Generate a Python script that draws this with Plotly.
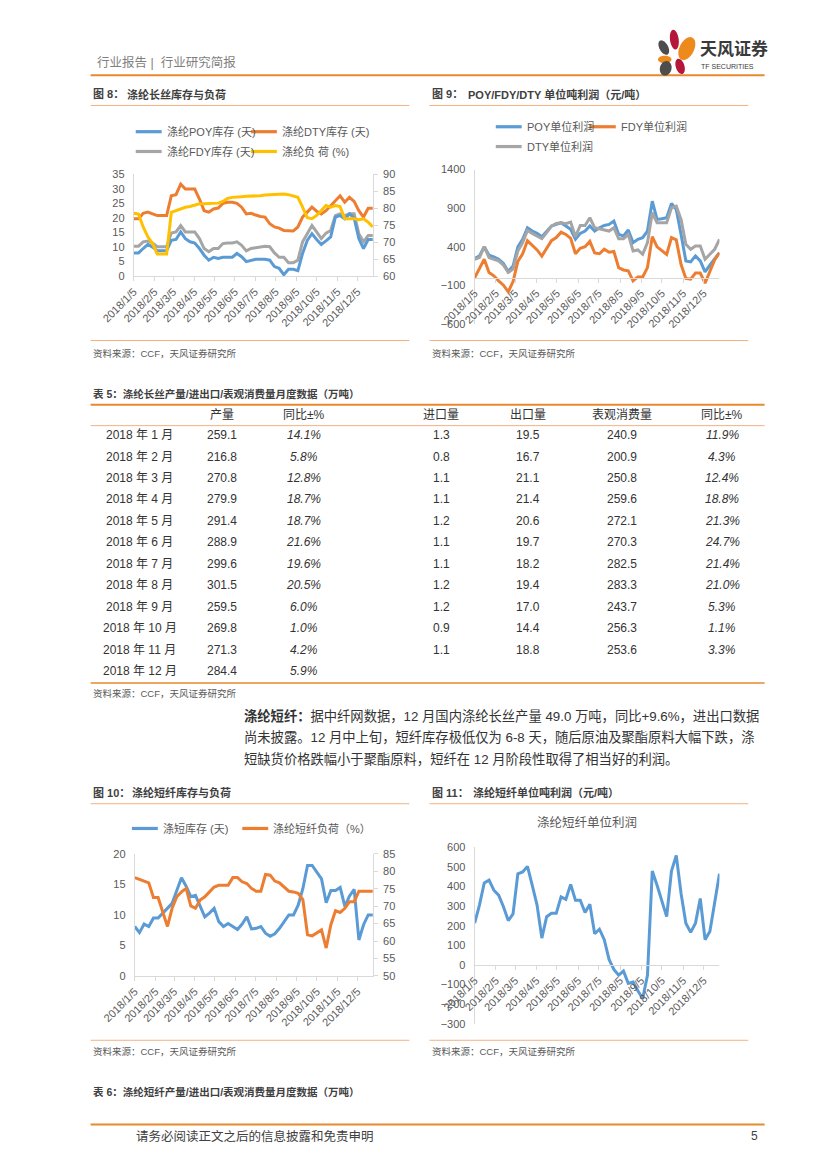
import math
import plotly.graph_objects as go
import pandas as pd

W, H = 827, 1169
FONT = "Liberation Sans, Noto Sans CJK SC, sans-serif"
GRAY_TXT = "#595959"
DARK_TXT = "#333333"
AXIS = "#D9D9D9"
BLUE, ORANGE, GREY, YELLOW = "#5B9BD5", "#ED7D31", "#A5A5A5", "#FFC000"
PAGE_ORANGE = "#E8892E"
LIGHT_ORANGE = "#F4B183"


def X(p):
    return p / W


def Y(p):
    return 1 - p / H


# ---------------- data ----------------
week_dates = pd.date_range("2018-01-05", periods=52, freq="7D")
x_range = ["2018-01-05", "2018-12-28"]
tick_dates = ["2018-%02d-05" % m for m in range(1, 13)]
tick_labels = ["2018/1/5", "2018/2/5", "2018/3/5", "2018/4/5", "2018/5/5", "2018/6/5",
               "2018/7/5", "2018/8/5", "2018/9/5", "2018/10/5", "2018/11/5", "2018/12/5"]

poy_stock = [8, 8, 9.5, 10.9, 10, 8.7, 8.7, 8.7, 12.3, 12.6,
             15.2, 12.9, 11.8, 11.4, 9.5, 7.2, 5.5, 6.5, 6.1, 6.5,
             6.5, 6.5, 7.8, 6.7, 5, 5.3, 5.8, 5.8, 5.8, 5.5,
             3.3, 2.7, 0.5, 2.4, 2.4, 1.9, 7.8, 12.3, 14.6, 12.6,
             10.9, 12.1, 13.5, 20.3, 20.8, 19.7, 21.4, 20, 12.9, 9.5,
             12.6, 12.6]
dty_stock = [19.7, 19.7, 21.6, 22, 21.4, 20.8, 20.8, 20.8, 27.6, 28,
             31.6, 29.9, 29.9, 29.9, 26.5, 22.5, 22, 23.1, 23.4, 25,
             25.4, 25.4, 25, 23.7, 21.4, 21.6, 21, 20.5, 20.3, 18,
             16.9, 16.5, 15.7, 15.5, 15.5, 16.9, 20.3, 22, 23.7, 22.3,
             21.4, 22.5, 24.2, 26.2, 27.6, 25.4, 27.1, 25.7, 22.5, 20.3,
             23.3, 23.3]
fdy_stock = [10.3, 10.3, 11.8, 12.1, 11.4, 10.1, 10.1, 10.1, 14.8, 15.2,
             17.4, 15.2, 15.2, 15.2, 12.9, 9.5, 8.4, 9.5, 9.5, 11.2,
             11.4, 11.4, 11.8, 10.6, 8.7, 9.5, 9.8, 10.1, 10.3, 10.1,
             8, 6.5, 6.5, 4.6, 4.6, 5.5, 11.8, 14.6, 17.4, 15.2,
             12.9, 14.8, 15.7, 20.8, 21.4, 20.8, 21.4, 21.4, 14.6, 11.8,
             14, 14]
filament_load = [78.5, 78.3, 74.5, 71.6, 69.6, 66.5, 66.5, 66.5, 78.8, 79.3,
                 79.8, 80.3, 80.5, 80.8, 81.3, 81.3, 81.3, 81.3, 81.5, 82,
                 82.9, 83.2, 83.2, 83.4, 83.5, 83.5, 83.6, 83.7, 83.9, 84,
                 84.2, 84.2, 84.2, 84, 83.5, 83.2, 80.3, 77.2, 76.9, 77.9,
                 79.3, 80.8, 80.3, 80.8, 80.5, 76.9, 76.9, 76.9, 76.6, 76.9,
                 75.9, 74.5]

poy_profit = [247, 282, 402, 290, 269, 239, 183, 80, 150, 400,
              497, 647, 604, 574, 531, 604, 669, 690, 712, 669,
              626, 497, 574, 604, 669, 604, 647, 677, 690, 733,
              561, 540, 617, 454, 497, 518, 604, 991, 755, 763,
              776, 961, 884, 561, 217, 204, 282, 217, 75, 161,
              239, 325]
fdy_profit = [0, 129, 239, 67, 24, -41, -97, -183, -50, 210,
              310, 480, 420, 360, 280, 380, 480, 520, 590, 560,
              510, 310, 380, 400, 470, 320, 310, 370, 330, 340,
              130, 100, 90, -40, 10, 10, 130, 530, 400, 350,
              300, 520, 490, 170, -10, -20, 60, 60, -70, 80,
              230, 320]
dty_profit = [239, 260, 402, 260, 239, 217, 161, 67, 110, 346,
              454, 613, 574, 540, 505, 583, 669, 703, 712, 699,
              720, 531, 677, 677, 776, 647, 634, 617, 604, 647,
              505, 505, 561, 346, 359, 303, 454, 841, 712, 712,
              712, 905, 927, 755, 432, 368, 411, 411, 239, 303,
              368, 497]

psf_stock = [8.1, 7.1, 8.5, 8.1, 9.5, 9.5, 10.3, 11.1, 11.9, 14,
             16.1, 14.7, 13, 13.2, 11.4, 9.7, 10.3, 11.1, 8.9, 8.1,
             8.6, 8.1, 7.6, 8.5, 9.7, 7.7, 7.8, 8.1, 7, 6.5,
             6.9, 7.8, 8.9, 10, 10, 11.6, 14.3, 18.1, 18.1, 17,
             15.9, 12, 14, 14, 14.5, 11.4, 13.1, 14.2, 5.9, 8.4,
             10, 10]
psf_load = [78.2, 77.6, 77.2, 76.7, 72.5, 72.5, 68.4, 64.2, 69.4, 72.7,
            74.1, 75.1, 70.1, 69.4, 71.8, 72.7, 74.1, 75.5, 76, 76,
            76, 78.2, 78.2, 77, 76.5, 75.1, 74.3, 74.3, 79.1, 78.9,
            77.2, 76.7, 75.5, 74.3, 74.1, 73.7, 71.9, 61.8, 61.5, 62.3,
            63.2, 58, 64.7, 68.7, 68.2, 69.4, 71.3, 71.3, 74.3, 74.3,
            74.3, 74.3]

psf_profit = [213, 305, 418, 432, 381, 356, 297, 226, 260, 465,
              474, 502, 406, 305, 137, 246, 263, 263, 347, 334,
              411, 330, 330, 267, 309, 159, 182, 129, 28, -23,
              -52, -31, -94, -87, -132, -171, -53, 479, 406, 327,
              246, 479, 558, 364, 213, 166, 213, 339, 129, 171,
              314, 465]

table_headers = ["", "产量", "同比±%", "进口量", "出口量", "表观消费量", "同比±%"]
table_months = ["2018 年 1 月", "2018 年 2 月", "2018 年 3 月", "2018 年 4 月", "2018 年 5 月",
                "2018 年 6 月", "2018 年 7 月", "2018 年 8 月", "2018 年 9 月", "2018 年 10 月",
                "2018 年 11 月", "2018 年 12 月"]
output_vol = [259.1, 216.8, 270.8, 279.9, 291.4, 288.9, 299.6, 301.5, 259.5, 269.8, 271.3, 284.4]
output_yoy = [14.1, 5.8, 12.8, 18.7, 18.7, 21.6, 19.6, 20.5, 6.0, 1.0, 4.2, 5.9]
import_vol = [1.3, 0.8, 1.1, 1.1, 1.2, 1.1, 1.1, 1.2, 1.2, 0.9, 1.1, None]
export_vol = [19.5, 16.7, 21.1, 21.4, 20.6, 19.7, 18.2, 19.4, 17.0, 14.4, 18.8, None]
consumption = [240.9, 200.9, 250.8, 259.6, 272.1, 270.3, 282.5, 283.3, 243.7, 256.3, 253.6, None]
consumption_yoy = [11.9, 4.3, 12.4, 18.8, 21.3, 24.7, 21.4, 21.0, 5.3, 1.1, 3.3, None]

fig = go.Figure()
LW = 3


def line_trace(x, y, color, xa, ya):
    return go.Scatter(x=x, y=y, mode="lines", line=dict(color=color, width=LW),
                      xaxis=xa, yaxis=ya, showlegend=False, hoverinfo="skip")


fig.add_trace(line_trace(week_dates, fdy_stock, GREY, "x", "y"))
fig.add_trace(line_trace(week_dates, poy_stock, BLUE, "x", "y"))
fig.add_trace(line_trace(week_dates, dty_stock, ORANGE, "x", "y"))
fig.add_trace(line_trace(week_dates, filament_load, YELLOW, "x", "y2"))
fig.add_trace(line_trace(week_dates, poy_profit, BLUE, "x2", "y3"))
fig.add_trace(line_trace(week_dates, dty_profit, GREY, "x2", "y3"))
fig.add_trace(line_trace(week_dates, fdy_profit, ORANGE, "x2", "y3"))
fig.add_trace(line_trace(week_dates, psf_stock, BLUE, "x3", "y4"))
fig.add_trace(line_trace(week_dates, psf_load, ORANGE, "x3", "y5"))
fig.add_trace(line_trace(week_dates, psf_profit, BLUE, "x4", "y6"))

tf = dict(family=FONT, size=11, color=GRAY_TXT)


def xaxis_cfg(x0, x1, **kw):
    d = dict(domain=[X(x0), X(x1)], range=x_range, type="date",
             tickvals=tick_dates, ticktext=tick_labels, tickangle=-45,
             showline=True, linecolor=AXIS, linewidth=1, ticks="outside", ticklen=4,
             tickcolor=AXIS, tickfont=tf, showgrid=False, zeroline=False, fixedrange=True)
    d.update(kw)
    return d


def yaxis_cfg(top, bottom, rng, dtick, **kw):
    d = dict(domain=[Y(bottom), Y(top)], range=rng, dtick=dtick, tick0=rng[0], showline=True,
             linecolor=AXIS, linewidth=1, showgrid=False, zeroline=False, tickfont=tf,
             ticks="", ticklabelstandoff=6, fixedrange=True)
    d.update(kw)
    return d


c9_top, c9_bot, c9_rng = 165.3, 321.3, [-600, 1400]
c11_top, c11_bot, c11_rng = 850.0, 1028.3, [-300, 600]
pos9 = Y(c9_bot) + (0 - c9_rng[0]) / (c9_rng[1] - c9_rng[0]) * (Y(c9_top) - Y(c9_bot))
pos11 = Y(c11_bot) + (0 - c11_rng[0]) / (c11_rng[1] - c11_rng[0]) * (Y(c11_top) - Y(c11_bot))

fig.update_layout(
    width=W, height=H, margin=dict(l=0, r=0, t=0, b=0),
    paper_bgcolor="white", plot_bgcolor="rgba(0,0,0,0)",
    font=dict(family=FONT, color=GRAY_TXT),
    xaxis=xaxis_cfg(105, 354, anchor="y"),
    yaxis=yaxis_cfg(170, 273, [0, 35], 5, anchor="x"),
    yaxis2=dict(overlaying="y", side="right", anchor="x", range=[60, 90], dtick=5,
                showline=True, linecolor=AXIS, ticks="outside", ticklen=4, tickcolor=AXIS,
                tickfont=tf, showgrid=False, zeroline=False, ticklabelstandoff=3, fixedrange=True),
    xaxis2=xaxis_cfg(460, 715, anchor="free", position=pos9),
    yaxis3=yaxis_cfg(c9_top, c9_bot, c9_rng, 500, anchor="x2"),
    xaxis3=xaxis_cfg(106, 354, anchor="y4"),
    yaxis4=yaxis_cfg(856.7, 980, [0, 20], 5, anchor="x3"),
    yaxis5=dict(overlaying="y4", side="right", anchor="x3", range=[50, 85], dtick=5,
                showline=True, linecolor=AXIS, ticks="outside", ticklen=4, tickcolor=AXIS,
                tickfont=tf, showgrid=False, zeroline=False, ticklabelstandoff=3, fixedrange=True),
    xaxis4=xaxis_cfg(460, 715, anchor="free", position=pos11),
    yaxis6=yaxis_cfg(c11_top, c11_bot, c11_rng, 100, anchor="x4"),
)

annotations = []
shapes = []


def txt(x, y, text, size=11, color=DARK_TXT, anchor="left", family=FONT):
    annotations.append(dict(x=X(x), y=Y(y), xref="paper", yref="paper", text=text,
                            showarrow=False, xanchor=anchor, yanchor="middle",
                            font=dict(family=family, size=size, color=color)))


def hline(x0, x1, y, color, width=1):
    shapes.append(dict(type="line", xref="paper", yref="paper", x0=X(x0), x1=X(x1),
                       y0=Y(y), y1=Y(y), line=dict(color=color, width=width)))


def legend_item(x, y, color, label):
    hline(x, x + 27, y, color, 3.2)
    txt(x + 30, y, label, size=11, color=GRAY_TXT)


def ellipse_path(cx, cy, rx, ry, ang):
    a = math.radians(ang)
    pts = []
    for k in range(48):
        t = 2 * math.pi * k / 48
        ex, ey = rx * math.cos(t), ry * math.sin(t)
        xr = cx + ex * math.cos(a) - ey * math.sin(a)
        yr = cy + ex * math.sin(a) + ey * math.cos(a)
        pts.append("%.5f,%.5f" % (X(xr), Y(yr)))
    return "M " + " L ".join(pts) + " Z"


# ---- page header ----
txt(65, 57, "行业报告 |  行业研究简报", size=12.5, color="#7F7F7F")
hline(60, 762, 70, PAGE_ORANGE, 2)
petals = [
    (668, 34, 4.5, 10, -8, "#B5173A"),
    (681, 43, 7.5, 12.5, 28, "#EE8A1C"),
    (657, 42, 4.5, 8, -30, "#4D4D4D"),
    (658, 54, 7, 3.8, 0, "#EE8A1C"),
    (659, 63, 6, 7.5, 18, "#4D4D4D"),
    (674, 61, 4.5, 8, -18, "#B5173A"),
]
for cx, cy, rx, ry, ang, col in petals:
    shapes.append(dict(type="path", xref="paper", yref="paper", path=ellipse_path(cx, cy, rx, ry, ang),
                       fillcolor=col, line=dict(width=0)))
txt(693, 43, "<b>天风证券</b>", size=17, color="#3A3A3A")
txt(694, 61, "TF SECURITIES", size=7, color="#3A3A3A")

# ---- figure 8 / 9 headers ----
txt(60, 89, "<b>图 8：</b>", size=11, color="#404040")
txt(96, 89, "<b>涤纶长丝库存与负荷</b>", size=11, color="#404040")
hline(60, 392, 100.5, LIGHT_ORANGE, 1)
txt(413, 89, "<b>图 9：</b>", size=11, color="#404040")
txt(451, 89, "<b>POY/FDY/DTY 单位吨利润（元/吨）</b>", size=11, color="#404040")
hline(413, 745, 100.5, LIGHT_ORANGE, 1)

legend_item(107, 127, BLUE, "涤纶POY库存 (天)")
legend_item(227, 127, ORANGE, "涤纶DTY库存 (天)")
legend_item(107, 147, GREY, "涤纶FDY库存 (天)")
legend_item(227, 147, YELLOW, "涤纶负 荷 (%)")
legend_item(482, 122, BLUE, "POY单位利润")
legend_item(580, 122, ORANGE, "FDY单位利润")
legend_item(482, 142, GREY, "DTY单位利润")

hline(60, 392, 338, LIGHT_ORANGE, 1)
hline(413, 745, 338, LIGHT_ORANGE, 1)
txt(60, 351, "资料来源：CCF，天风证券研究所", size=9.5, color=GRAY_TXT)
txt(413, 351, "资料来源：CCF，天风证券研究所", size=9.5, color=GRAY_TXT)

# ---- table 5 ----
txt(60, 392, "<b>表 5：涤纶长丝产量/进出口/表观消费量月度数据（万吨）</b>", size=10.5, color="#404040")
hline(60, 762, 403, PAGE_ORANGE, 2)
hline(60, 762, 424, LIGHT_ORANGE, 1)
hline(60, 762, 684, PAGE_ORANGE, 1.5)
col_x = [111, 197, 282, 425, 516, 614, 718]
for c, h in enumerate(table_headers):
    if h:
        txt(col_x[c], 413, h, size=12, color=DARK_TXT, anchor="center")


def fmt_num(v):
    return "" if v is None else "%.1f" % v


def fmt_pct(v):
    return "" if v is None else "<i>%.1f%%</i>" % v


for r, m in enumerate(table_months):
    yy = 433.5 + 21.7 * r
    cells = [m, fmt_num(output_vol[r]), fmt_pct(output_yoy[r]), fmt_num(import_vol[r]),
             fmt_num(export_vol[r]), fmt_num(consumption[r]), fmt_pct(consumption_yoy[r])]
    for c, s in enumerate(cells):
        if s:
            txt(col_x[c], yy, s, size=12, color=DARK_TXT, anchor="center")
txt(60, 695, "资料来源：CCF，天风证券研究所", size=9.5, color=GRAY_TXT)

# ---- paragraph ----
txt(218, 717, "<b>涤纶短纤：</b>据中纤网数据，12 月国内涤纶长丝产量 49.0 万吨，同比+9.6%，进出口数据",
    size=13.3, color=DARK_TXT)
txt(218, 739, "尚未披露。12 月中上旬，短纤库存极低仅为 6-8 天，随后原油及聚酯原料大幅下跌，涤",
    size=13.3, color=DARK_TXT)
txt(218, 761, "短缺货价格跌幅小于聚酯原料，短纤在 12 月阶段性取得了相当好的利润。",
    size=13.3, color=DARK_TXT)

# ---- figure 10 / 11 headers ----
txt(60, 795, "<b>图 10：</b>", size=11, color="#404040")
txt(101, 795, "<b>涤纶短纤库存与负荷</b>", size=11, color="#404040")
hline(60, 392, 806, LIGHT_ORANGE, 1)
txt(413, 795, "<b>图 11：</b>", size=11, color="#404040")
txt(456, 795, "<b>涤纶短纤单位吨利润（元/吨）</b>", size=11, color="#404040")
hline(413, 745, 806, LIGHT_ORANGE, 1)

legend_item(103, 831, BLUE, "涤短库存 (天)")
legend_item(218, 831, ORANGE, "涤纶短纤负荷（%）")
txt(577, 825, "涤纶短纤单位利润", size=12.5, color=GRAY_TXT, anchor="center")

hline(60, 392, 1045, LIGHT_ORANGE, 1)
hline(413, 745, 1045, LIGHT_ORANGE, 1)
txt(60, 1056, "资料来源：CCF，天风证券研究所", size=9.5, color=GRAY_TXT)
txt(413, 1056, "资料来源：CCF，天风证券研究所", size=9.5, color=GRAY_TXT)

# ---- table 6 title ----
txt(60, 1097, "<b>表 6：涤纶短纤产量/进出口/表观消费量月度数据（万吨）</b>", size=10.5, color="#404040")

# ---- footer ----
hline(60, 762, 1130, PAGE_ORANGE, 2)
txt(105, 1142, "请务必阅读正文之后的信息披露和免责申明", size=12.5, color="#404040")
txt(757, 1142, "5", size=12, color="#404040", anchor="right")

fig.update_layout(annotations=annotations, shapes=shapes)
fig.write_html("out.html", config={"displayModeBar": False},
               post_script="document.body.style.margin='0px';document.body.style.overflow='hidden';")
